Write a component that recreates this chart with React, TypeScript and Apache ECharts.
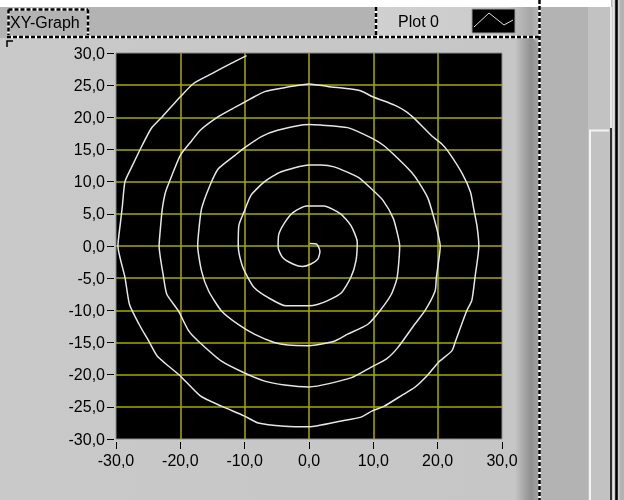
import React, { useEffect, useRef } from "react";
import * as echarts from "echarts";

// Axis settings
const xTicks = [-30, -20, -10, 0, 10, 20, 30];
const yTicks = [-30, -25, -20, -15, -10, -5, 0, 5, 10, 15, 20, 25, 30];

// Spiral (Plot 0), turn by turn, as [x, y]
const turn1 = [
  [0.1, 0.4], [1.2, 0.3], [1.7, -0.8], [1.4, -2.0], [0.3, -2.8], [-1.0, -3.2],
  [-2.5, -2.8], [-4.1, -1.8], [-4.8, -0.2], [-4.7, 1.8], [-3.8, 3.6], [-2.5, 5.2],
  [-0.4, 6.2],
];
const turn2 = [
  [2.3, 6.2], [4.9, 5.0], [6.5, 3.2], [7.5, 0.6], [7.3, -2.3], [6.5, -4.9],
  [5.0, -7.3], [2.9, -8.5], [1.3, -9.1], [0.0, -9.3], [-3.6, -9.3], [-6.4, -8.0],
  [-8.5, -6.5], [-9.5, -4.9], [-10.4, -3.0], [-11.0, 0.0], [-10.9, 3.2], [-10.1, 5.3],
  [-9.0, 7.9], [-6.9, 10.0], [-4.4, 11.5], [0.0, 12.6],
];
const turn3 = [
  [1.8, 12.6], [3.9, 12.3], [7.6, 10.7], [9.9, 8.7], [11.5, 7.1], [13.1, 4.3],
  [13.8, 1.7], [14.1, 0.0], [13.7, -4.9], [12.8, -7.5], [11.0, -10.1], [9.1, -12.2],
  [6.0, -13.7], [3.9, -14.8], [0.0, -15.5], [-3.3, -15.4], [-5.4, -15.0], [-8.5, -13.7],
  [-11.0, -12.2], [-13.6, -10.1], [-15.6, -7.0], [-16.7, -3.9], [-17.3, 0.0], [-17.1, 2.7],
  [-16.7, 5.8], [-15.4, 9.4], [-14.1, 12.0], [-11.5, 14.1], [-10.1, 15.2], [-7.4, 17.0],
  [-4.9, 18.0], [0.0, 18.9],
];
const turn4 = [
  [1.8, 18.8], [6.0, 18.4], [9.9, 16.7], [11.5, 15.7], [13.3, 14.1], [15.9, 11.5],
  [17.0, 10.0], [18.5, 7.4], [19.6, 3.7], [20.1, 1.7], [20.4, 0.0], [19.8, -4.9],
  [19.6, -7.0], [18.0, -10.1], [16.4, -12.2], [13.8, -15.8], [12.0, -17.6], [9.9, -18.7],
  [6.5, -20.5], [0.0, -21.9], [-3.8, -21.6], [-6.9, -21.0], [-10.1, -19.7], [-13.6, -17.9],
  [-17.2, -14.8], [-18.7, -13.2], [-20.3, -10.1], [-22.1, -7.5], [-22.6, -4.9], [-23.3, 0.0],
  [-23.1, 2.7], [-22.8, 5.8], [-22.3, 8.4], [-21.3, 11.0], [-20.0, 14.1], [-18.2, 16.4],
  [-16.9, 18.0], [-14.1, 20.1], [-11.8, 21.4], [-10.1, 22.3], [-6.9, 24.0], [-3.3, 24.7],
  [0.0, 25.2],
];
const turn5 = [
  [2.9, 24.8], [6.5, 24.4], [8.1, 24.1], [9.9, 23.2], [13.3, 21.9], [15.1, 20.9],
  [16.4, 19.8], [19.1, 17.1], [20.6, 15.9], [21.7, 14.6], [23.8, 11.3], [25.1, 8.4],
  [25.6, 5.8], [26.1, 3.2], [26.4, 0.0], [25.8, -4.9], [25.3, -8.5], [24.5, -10.1],
  [22.7, -15.0], [22.2, -16.3], [20.1, -18.1], [18.5, -20.0], [16.4, -22.0], [14.6, -23.1],
  [11.7, -24.9], [9.9, -25.6], [8.1, -26.6], [5.0, -27.2], [0.0, -28.1], [-3.8, -28.0],
  [-7.9, -27.5], [-10.1, -26.4], [-13.6, -24.9], [-16.9, -23.3], [-20.0, -20.2], [-21.8, -18.7],
  [-23.6, -17.1], [-24.9, -14.8], [-26.4, -12.2], [-27.9, -9.1], [-28.6, -4.9], [-29.7, 0.0],
  [-29.3, 3.7], [-29.0, 6.3], [-28.6, 10.0], [-27.4, 12.6], [-25.9, 15.7], [-24.5, 18.3],
  [-22.8, 20.1], [-20.0, 23.2], [-17.9, 25.3], [-15.1, 26.8], [-12.1, 28.4], [-9.7, 29.6],
];

const graphTitle = "XY-Graph";
const plotName = "Plot 0";

const FONT = '"Liberation Sans", Arial, sans-serif';
const GRID_COLOR = "#a8a800";
const fmt = (v: number) => v.toFixed(1).replace(".", ",");

function dashedLine(x1: number, y1: number, x2: number, y2: number) {
  return [
    { type: "line", z: 20, shape: { x1, y1, x2, y2 }, style: { stroke: "#ffffff", lineWidth: 2.5 } },
    { type: "line", z: 21, shape: { x1, y1, x2, y2 }, style: { stroke: "#000000", lineWidth: 2.5, lineDash: [4, 2] } },
  ];
}

export default function App() {
  const ref = useRef<HTMLDivElement>(null);
  useEffect(() => {
    if (!ref.current) return;
    const chart = echarts.init(ref.current, undefined, { renderer: "svg" });
    const data = [...turn1, ...turn2, ...turn3, ...turn4, ...turn5];

    const elements: any[] = [
      { type: "rect", z: -20, shape: { x: 0, y: 0, width: 624, height: 500 }, style: { fill: "#b3b3b3" } },
      { type: "rect", z: -19, shape: { x: 0, y: 0, width: 611, height: 7 }, style: { fill: "#ffffff" } },
      {
        type: "rect", z: -18,
        shape: { x: 0, y: 38, width: 539, height: 462, r: [0, 10, 0, 0] },
        style: {
          fill: new echarts.graphic.LinearGradient(0, 0, 1, 0, [
            { offset: 0, color: "#c9c9c9" },
            { offset: 0.955, color: "#c6c6c6" },
            { offset: 0.985, color: "#909090" },
            { offset: 1, color: "#a4a4a4" },
          ]),
        },
      },
      {
        type: "rect", z: -18,
        shape: { x: 376, y: 7, width: 163, height: 29 },
        style: {
          fill: new echarts.graphic.LinearGradient(0, 0, 1, 0, [
            { offset: 0, color: "#d0d0d0" },
            { offset: 0.8, color: "#cbcbcb" },
            { offset: 0.95, color: "#a6a6a6" },
            { offset: 1, color: "#b8b8b8" },
          ]),
        },
      },
      // right-hand scrollbar strip
      { type: "rect", z: -17, shape: { x: 588, y: 7, width: 22, height: 493 }, style: { fill: "#c2c2c2" } },
      { type: "polyline", z: -16, shape: { points: [[590, 500], [590, 130.5], [609, 130.5]] }, style: { stroke: "#f4f4f4", lineWidth: 2, fill: "none" } },
      { type: "line", z: -16, shape: { x1: 611, y1: 7, x2: 611, y2: 128 }, style: { stroke: "#e8e8e8", lineWidth: 2 } },
      { type: "line", z: -16, shape: { x1: 611, y1: 128, x2: 611, y2: 500 }, style: { stroke: "#303030", lineWidth: 2 } },
      { type: "line", z: -16, shape: { x1: 613.5, y1: 0, x2: 613.5, y2: 500 }, style: { stroke: "#e6e6e6", lineWidth: 2 } },
      { type: "line", z: -16, shape: { x1: 616.5, y1: 0, x2: 616.5, y2: 500 }, style: { stroke: "#000000", lineWidth: 2.5 } },
      { type: "line", z: -16, shape: { x1: 619, y1: 0, x2: 619, y2: 500 }, style: { stroke: "#dcdcdc", lineWidth: 1 } },
      // corner mark of the frame
      { type: "polyline", z: 5, shape: { points: [[7, 47], [7, 41], [13, 41]] }, style: { stroke: "#000", lineWidth: 1.5, fill: "none" } },
      // legend icon
      { type: "rect", z: 10, shape: { x: 472, y: 9, width: 43, height: 24 }, style: { fill: "#000", stroke: "#9a9a9a", lineWidth: 1 } },
      { type: "polyline", z: 11, shape: { points: [[474, 27], [489, 13], [504, 25], [513, 20]] }, style: { stroke: "#e0e0e0", lineWidth: 1, fill: "none" } },
      // texts
      { type: "text", z: 12, style: { text: graphTitle, x: 10, y: 22, font: `16px ${FONT}`, fill: "#000", verticalAlign: "middle", textVerticalAlign: "middle" } },
      { type: "text", z: 12, style: { text: plotName, x: 398, y: 21, font: `16px ${FONT}`, fill: "#000", verticalAlign: "middle", textVerticalAlign: "middle" } },
      // dashed selection lines
      ...dashedLine(7, 37, 540, 37),
      ...dashedLine(539.5, 0, 539.5, 500),
      ...dashedLine(376, 7, 376, 37),
      ...dashedLine(8.5, 9.5, 88, 9.5),
      ...dashedLine(8.5, 9.5, 8.5, 35),
      ...dashedLine(88, 9.5, 88, 35),
    ];

    chart.setOption({
      animation: false,
      grid: {
        left: 116, top: 53, width: 386, height: 386,
        show: true, backgroundColor: "#000000", borderColor: "#8c8c8c", borderWidth: 1,
      },
      xAxis: {
        type: "value", min: xTicks[0], max: xTicks[xTicks.length - 1], interval: 10,
        offset: 3,
        axisLine: { show: false, onZero: false },
        axisTick: { show: true, length: 7, lineStyle: { color: "#000", width: 1 } },
        axisLabel: { formatter: fmt, color: "#000", fontFamily: FONT, fontSize: 16, margin: 10 },
        splitLine: { show: true, showMinLine: false, showMaxLine: false, lineStyle: { color: GRID_COLOR, width: 1.5 } },
      },
      yAxis: {
        type: "value", min: yTicks[0], max: yTicks[yTicks.length - 1], interval: 5,
        offset: 2,
        axisLine: { show: false, onZero: false },
        axisTick: { show: true, length: 7, lineStyle: { color: "#000", width: 1 } },
        axisLabel: { formatter: fmt, color: "#000", fontFamily: FONT, fontSize: 16, margin: 9 },
        splitLine: { show: true, showMinLine: false, showMaxLine: false, lineStyle: { color: GRID_COLOR, width: 1.5 } },
      },
      graphic: { elements },
      series: [
        {
          name: plotName, type: "line", data, showSymbol: false, symbol: "none",
          smooth: 0.2,
          lineStyle: { color: "#e6e6e6", width: 1.5 }, clip: true,
        },
      ],
    });
    return () => chart.dispose();
  }, []);
  return <div ref={ref} style={{ position: "fixed", left: 0, top: 0, width: 624, height: 500 }} />;
}
